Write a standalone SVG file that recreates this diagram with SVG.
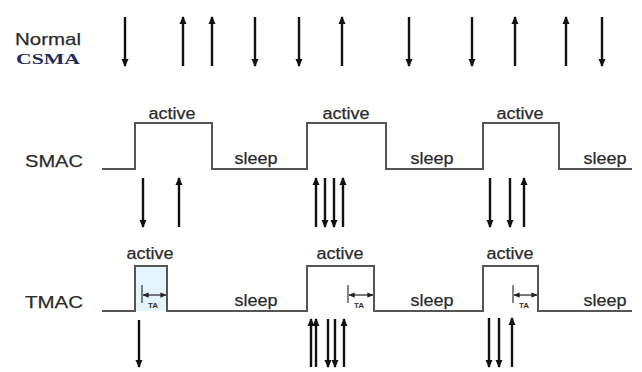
<svg xmlns="http://www.w3.org/2000/svg" width="642" height="372" viewBox="0 0 642 372">
<defs>
<marker id="ah" viewBox="0 0 8 8" refX="7" refY="4" markerWidth="8" markerHeight="8" markerUnits="userSpaceOnUse" orient="auto"><path d="M0,0.5 L8,4 L0,7.5 z" fill="#111"/></marker>
<marker id="sa" viewBox="0 0 8 8" refX="7.5" refY="4" markerWidth="6" markerHeight="6" markerUnits="userSpaceOnUse" orient="auto-start-reverse"><path d="M0,0.5 L8,4 L0,7.5 z" fill="#222"/></marker>
<style>
.lbl{font-family:"Liberation Sans",Arial,sans-serif;fill:#2b2b2b;stroke:#2b2b2b;stroke-width:0.25;}
.row{font-size:17px;}
.st{font-size:16px;text-anchor:middle;}
.wave{fill:none;stroke:#555;stroke-width:2;}
.ar{stroke:#111;stroke-width:2.4;marker-end:url(#ah);}
.ta{stroke:#222;stroke-width:1.2;marker-start:url(#sa);marker-end:url(#sa);}
.tick{stroke:#333;stroke-width:1.2;}
.tat{font-family:"Liberation Sans",Arial,sans-serif;font-size:8px;font-weight:bold;fill:#333;text-anchor:middle;}
</style>
</defs>
<rect width="642" height="372" fill="#fff"/>

<g id="csma">
<text class="lbl" x="15" y="45" font-size="17" textLength="66" lengthAdjust="spacingAndGlyphs">Normal</text>
<text x="16" y="64" font-family="'Liberation Serif','Times New Roman',serif" font-size="14" font-weight="bold" fill="#1d2b5c" textLength="64" lengthAdjust="spacingAndGlyphs">CSMA</text>
</g>

<g id="smac">
<text class="lbl row" x="25" y="167" textLength="58" lengthAdjust="spacingAndGlyphs">SMAC</text>
<path class="wave" d="M102,169 H135 V123 H212 V169 H307 V123 H386 V169 H483 V123 H559 V169 H632"/>
<text class="lbl st" x="172" y="119" textLength="47" lengthAdjust="spacingAndGlyphs">active</text>
<text class="lbl st" x="346" y="119" textLength="47" lengthAdjust="spacingAndGlyphs">active</text>
<text class="lbl st" x="520" y="119" textLength="47" lengthAdjust="spacingAndGlyphs">active</text>
<text class="lbl st" x="256" y="164" textLength="43" lengthAdjust="spacingAndGlyphs">sleep</text>
<text class="lbl st" x="432" y="164" textLength="43" lengthAdjust="spacingAndGlyphs">sleep</text>
<text class="lbl st" x="605" y="164" textLength="43" lengthAdjust="spacingAndGlyphs">sleep</text>
</g>

<g id="tmac">
<rect x="135" y="266" width="32" height="45" fill="#e3f4fb"/>
<text class="lbl row" x="25" y="308" textLength="58" lengthAdjust="spacingAndGlyphs">TMAC</text>
<path class="wave" d="M102,311 H135 V266 H167 V311 H307 V266 H374 V311 H483 V266 H538 V311 H632"/>
<text class="lbl st" x="150" y="259" textLength="47" lengthAdjust="spacingAndGlyphs">active</text>
<text class="lbl st" x="340" y="259" textLength="47" lengthAdjust="spacingAndGlyphs">active</text>
<text class="lbl st" x="510" y="259" textLength="47" lengthAdjust="spacingAndGlyphs">active</text>
<text class="lbl st" x="256" y="306" textLength="43" lengthAdjust="spacingAndGlyphs">sleep</text>
<text class="lbl st" x="432" y="306" textLength="43" lengthAdjust="spacingAndGlyphs">sleep</text>
<text class="lbl st" x="605" y="306" textLength="43" lengthAdjust="spacingAndGlyphs">sleep</text>
<line class="tick" x1="142" y1="285" x2="142" y2="303"/>
<line class="ta" x1="143" y1="295" x2="166" y2="295"/>
<text class="tat" x="153" y="308">TA</text>
<line class="tick" x1="348" y1="285" x2="348" y2="303"/>
<line class="ta" x1="349" y1="295" x2="373" y2="295"/>
<text class="tat" x="359" y="308">TA</text>
<line class="tick" x1="513" y1="285" x2="513" y2="303"/>
<line class="ta" x1="514" y1="295" x2="537" y2="295"/>
<text class="tat" x="524" y="308">TA</text>
</g>

<g id="connectors">
<!-- Normal CSMA -->
<line class="ar" x1="125" y1="17" x2="125" y2="66"/>
<line class="ar" x1="183" y1="66" x2="183" y2="17"/>
<line class="ar" x1="212" y1="66" x2="212" y2="17"/>
<line class="ar" x1="255" y1="17" x2="255" y2="66"/>
<line class="ar" x1="299" y1="17" x2="299" y2="66"/>
<line class="ar" x1="342" y1="66" x2="342" y2="17"/>
<line class="ar" x1="409" y1="17" x2="409" y2="66"/>
<line class="ar" x1="472" y1="17" x2="472" y2="66"/>
<line class="ar" x1="515" y1="66" x2="515" y2="17"/>
<line class="ar" x1="566" y1="66" x2="566" y2="17"/>
<line class="ar" x1="602" y1="17" x2="602" y2="66"/>
<!-- SMAC -->
<line class="ar" x1="143" y1="178" x2="143" y2="227"/>
<line class="ar" x1="179" y1="227" x2="179" y2="178"/>
<line class="ar" x1="316" y1="227" x2="316" y2="178"/>
<line class="ar" x1="325" y1="178" x2="325" y2="227"/>
<line class="ar" x1="334" y1="178" x2="334" y2="227"/>
<line class="ar" x1="343" y1="227" x2="343" y2="178"/>
<line class="ar" x1="490" y1="178" x2="490" y2="227"/>
<line class="ar" x1="510" y1="178" x2="510" y2="227"/>
<line class="ar" x1="524" y1="227" x2="524" y2="178"/>
<!-- TMAC -->
<line class="ar" x1="139" y1="320" x2="139" y2="367"/>
<line class="ar" x1="311" y1="367" x2="311" y2="319"/>
<line class="ar" x1="316" y1="367" x2="316" y2="319"/>
<line class="ar" x1="328" y1="319" x2="328" y2="367"/>
<line class="ar" x1="335" y1="319" x2="335" y2="367"/>
<line class="ar" x1="344" y1="367" x2="344" y2="319"/>
<line class="ar" x1="489" y1="318" x2="489" y2="367"/>
<line class="ar" x1="499" y1="318" x2="499" y2="367"/>
<line class="ar" x1="512" y1="367" x2="512" y2="318"/>
</g>
</svg>
